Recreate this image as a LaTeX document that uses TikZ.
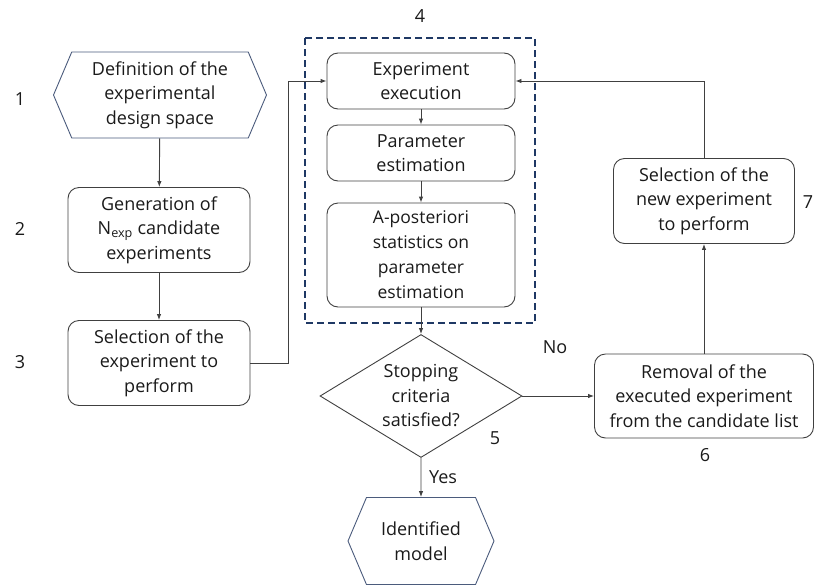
\documentclass[tikz,border=0pt]{standalone}
\usepackage{fontspec}
\setmainfont{Open Sans}
\usetikzlibrary{arrows.meta, positioning, shapes.geometric, shapes.symbols}
\definecolor{BoxLine}{HTML}{404040}
\definecolor{HexLine}{HTML}{4B5B7C}
\definecolor{DashNavy}{HTML}{1F3864}
\definecolor{TextGray}{HTML}{1A1A1A}

\begin{document}
\begin{tikzpicture}[x=1pt, y=-1pt,
    every node/.style={font=\fontsize{18}{24.5}\selectfont, text=TextGray},
    stepbox/.style={draw=BoxLine, rounded corners=11pt, line width=0.9pt, align=center, inner sep=0pt},
    hexbox/.style={draw=HexLine, signal, signal to=west and east, signal pointer angle=134, line width=0.9pt, align=center, inner sep=0pt},
    decision/.style={draw=BoxLine, diamond, aspect=1.64, line width=0.9pt, align=center, inner sep=0pt, minimum width=202pt, minimum height=123pt},
    flow/.style={draw=BoxLine, line width=0.9pt, -{Latex[length=6pt,width=4.5pt]}}]
    \useasboundingbox (0,0) rectangle (814,587);

    % Loop of the experiments
    \draw[DashNavy, line width=1.4pt, dash pattern=on 7pt off 4pt] (305,38) rectangle (535,323);

    % Left column
    \node[hexbox, minimum width=213pt, minimum height=86pt] (design) at (160,95) {Definition of the\\experimental\\design space};
    \node[stepbox, minimum width=182pt, minimum height=85pt] (gen) at (159,230) {Generation of\\N\textsubscript{exp} candidate\\experiments};
    \node[stepbox, minimum width=182pt, minimum height=85pt] (sel) at (159,363) {Selection of the\\experiment to\\perform};

    % Middle column
    \node[stepbox, minimum width=188pt, minimum height=56pt] (exec) at (421,81) {Experiment\\execution};
    \node[stepbox, minimum width=188pt, minimum height=56pt] (param) at (421,153) {Parameter\\estimation};
    \node[stepbox, minimum width=188pt, minimum height=104pt, font=\fontsize{17.5}{25}\selectfont] (post) at (421,255) {A-posteriori\\statistics on\\parameter\\estimation};
    \node[decision] (stop) at (421,396) {Stopping\\criteria\\satisfied?};
    \node[hexbox, minimum width=146pt, minimum height=87pt] (model) at (421,541) {Identified\\model};

    % Right column
    \node[stepbox, minimum width=219pt, minimum height=84pt] (remove) at (704,396) {Removal of the\\executed experiment\\from the candidate list};
    \node[stepbox, minimum width=181pt, minimum height=85pt] (newsel) at (704,201) {Selection of the\\new experiment\\to perform};

    % Step numbers
    \node (n1) at (20,99) {1};
    \node (n2) at (20,229) {2};
    \node (n3) at (20,362) {3};
    \node (n4) at (420,16) {4};
    \node (n5) at (495,438) {5};
    \node (n6) at (705,455) {6};
    \node (n7) at (808,202) {7};
    \node (no) at (555,347) {No};
    \node (yes) at (443,477) {Yes};

    % Connectors
    \coordinate (jump) at (288,0);
    \draw[flow] (design) -- (gen);
    \draw[flow] (gen) -- (sel);
    \draw[flow] (sel.east) -| (jump |- exec.west) -- (exec.west);
    \draw[flow] (exec) -- (param);
    \draw[flow] (param) -- (post);
    \draw[flow] (post) -- (stop);
    \draw[flow] (stop) -- (model);
    \draw[flow] (stop.east) -- (remove.west);
    \draw[flow] (remove) -- (newsel);
    \draw[flow] (newsel.north) |- (exec.east);
\end{tikzpicture}
\end{document}
